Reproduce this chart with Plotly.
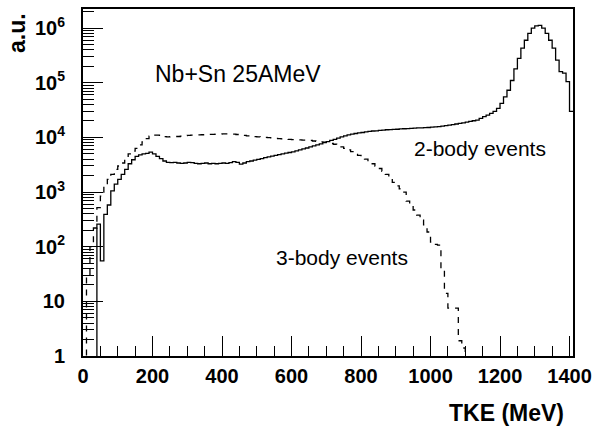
import plotly.graph_objects as go

# ---- data (10 MeV bins starting at 0 MeV) ----
bin_width = 10
two_body = [
    0, 0, 0, 0, 260, 55, 390, 580, 1050, 1400,
    1700, 2100, 2600, 3300, 3900, 4500, 4800, 5000, 5100, 5400,
    5000, 4500, 4100, 3700, 3500, 3450, 3500, 3400, 3350, 3400,
    3500, 3450, 3350, 3300, 3350, 3400, 3300, 3350, 3300, 3350,
    3400, 3350, 3450, 3600, 3500, 3250, 3400, 3600, 3700, 3850,
    3950, 4100, 4250, 4400, 4550, 4700, 4850, 5000, 5150, 5300,
    5450, 5650, 5900, 6150, 6400, 6700, 7000, 7300, 7600, 8000,
    8400, 8800, 9200, 9700, 10200, 10700, 11100, 11500, 11800, 12100,
    12300, 12600, 12900, 13100, 13200, 13400, 13600, 13800, 13900, 14000,
    14100, 14300, 14400, 14500, 14600, 14800, 14900, 15000, 15100, 15200,
    15400, 15600, 15800, 16100, 16400, 16800, 17200, 17600, 18000, 18500,
    19000, 19600, 20200, 20700, 22300, 24000, 25500, 27500, 30000, 34000,
    42000, 55000, 73000, 110000, 180000, 280000, 430000, 600000, 800000, 1000000,
    1100000, 1120000, 1000000, 800000, 600000, 430000, 260000, 160000, 150000, 105000,
    30000,
]
three_body = [
    0, 30, 100, 220, 520, 840, 1340, 1700, 2100, 2600,
    3000, 3400, 4000, 5000, 5600, 6300, 7300, 8300, 9500, 10500,
    11000, 11000, 10600, 10300, 10200, 10300, 10300, 10400, 10600, 10800,
    10900, 11000, 11000, 11100, 11200, 11300, 11400, 11400, 11500, 11500,
    11600, 11600, 11500, 11500, 11300, 11100, 10900, 10700, 10500, 10300,
    10200, 10100, 10000, 9900, 9800, 9600, 9500, 9400, 9300, 9200,
    9150, 9100, 9000, 8950, 8900, 8800, 8600, 8500, 8300, 8200,
    8100, 7800, 7500, 7100, 6700, 6300, 5900, 5500, 5100, 4700,
    4300, 4000, 3600, 3300, 3000, 2700, 2400, 2100, 1800, 1500,
    1300, 1150, 1000, 680, 560, 470, 380, 305, 250, 186,
    122, 110, 107, 37, 14, 7.5, 7.5, 7.5, 1.9, 1.4,
    0, 0, 0, 0, 0, 0, 0, 0, 0, 0,
    0, 0, 0, 0, 0, 0, 0, 0, 0, 0,
    0, 0, 0, 0, 0, 0, 0, 0, 0, 0,
    0,
]
x_ticks = [0, 200, 400, 600, 800, 1000, 1200, 1400]
y_ticks = [1, 10, 100, 1000, 10000, 100000, 1000000]
y_tick_text = ["1", "10", "10<sup>2</sup>", "10<sup>3</sup>", "10<sup>4</sup>",
               "10<sup>5</sup>", "10<sup>6</sup>"]

n_bins = len(two_body)
edges = [i * bin_width for i in range(n_bins + 1)]
FLOOR = 1e-3  # empty bins drawn below the frame, like ROOT does


def step_y(vals):
    ys = [v if v > 0 else FLOOR for v in vals]
    return ys + [ys[-1]]


FONT = "Liberation Sans, Arial, Helvetica, sans-serif"

fig = go.Figure()
fig.add_trace(go.Scatter(x=edges, y=step_y(two_body), mode="lines", line_shape="hv",
                         line=dict(color="black", width=1.3), showlegend=False))
fig.add_trace(go.Scatter(x=edges, y=step_y(three_body), mode="lines", line_shape="hv",
                         line=dict(color="black", width=1.3, dash="6px,6px"),
                         showlegend=False))

y_minor = [m * 10 ** d for d in range(0, 7) for m in range(2, 10)]

fig.update_layout(
    width=592, height=430,
    margin=dict(l=83, r=19, t=9, b=74, autoexpand=False),
    paper_bgcolor="white", plot_bgcolor="white",
    font=dict(family=FONT, color="black"),
    xaxis=dict(
        range=[0, 1410], tickmode="array", tickvals=x_ticks,
        ticks="inside", ticklen=20, tickwidth=1, tickcolor="black",
        showline=True, linewidth=2, linecolor="black", mirror=True,
        showgrid=False, zeroline=False, automargin=False,
        tickfont=dict(family=FONT, size=20, weight="bold", color="black"),
        ticklabelstandoff=1,
        minor=dict(tick0=0, dtick=50, ticks="inside", ticklen=10, tickwidth=1,
                   tickcolor="black", showgrid=False),
    ),
    yaxis=dict(
        type="log", range=[0, 6.35], tickmode="array", tickvals=y_ticks,
        ticktext=y_tick_text,
        ticks="inside", ticklen=20, tickwidth=1, tickcolor="black",
        showline=True, linewidth=2, linecolor="black", mirror=True,
        showgrid=False, zeroline=False, automargin=False,
        tickfont=dict(family=FONT, size=20, weight="bold", color="black"),
        ticklabelstandoff=12,
        minor=dict(tickmode="array", tickvals=y_minor, ticks="inside", ticklen=11,
                   tickwidth=1, tickcolor="black", showgrid=False),
    ),
    annotations=[
        dict(text="Nb+Sn 25AMeV", x=200, y=5.16, xref="x", yref="y",
             xanchor="left", yanchor="middle", showarrow=False,
             font=dict(family=FONT, size=23, color="black")),
        dict(text="2-body events", x=948, y=3.80, xref="x", yref="y",
             xanchor="left", yanchor="middle", showarrow=False,
             font=dict(family=FONT, size=21, color="black")),
        dict(text="3-body events", x=551, y=1.81, xref="x", yref="y",
             xanchor="left", yanchor="middle", showarrow=False,
             font=dict(family=FONT, size=21, color="black")),
        dict(text="a.u.", x=-0.136, y=0.932, xref="paper", yref="paper",
             xanchor="center", yanchor="middle", textangle=-90, showarrow=False,
             font=dict(family=FONT, size=23, weight="bold", color="black")),
        dict(text="TKE (MeV)", x=0.985, y=-0.165, xref="paper", yref="paper",
             xanchor="right", yanchor="middle", showarrow=False,
             font=dict(family=FONT, size=23, weight="bold", color="black")),
    ],
)

fig.write_html("out.html")
